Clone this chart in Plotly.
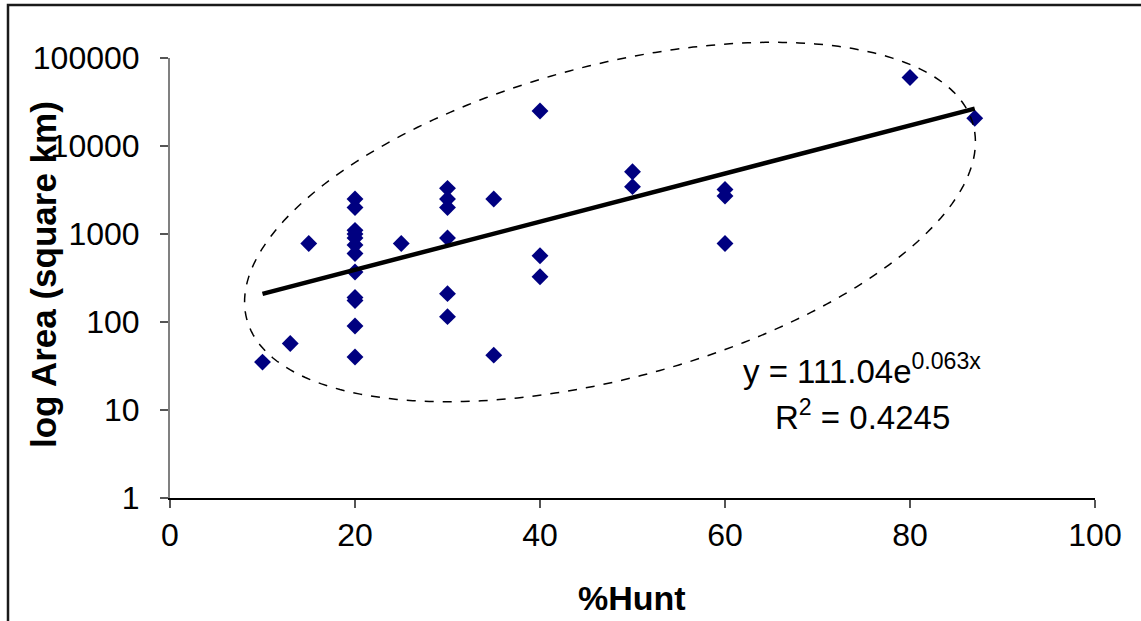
import math
import plotly.graph_objects as go

# ---- data ----
hunt_pct = [10, 13, 15,
            20, 20, 20, 20, 20, 20, 20, 20, 20, 20, 20, 20,
            25,
            30, 30, 30, 30, 30, 30,
            35, 35,
            40, 40, 40,
            50, 50,
            60, 60, 60,
            80, 87]
area_km2 = [35, 57, 780,
            2500, 2000, 1100, 1000, 900, 750, 600, 370, 190, 175, 90, 40,
            780,
            3300, 2500, 2000, 900, 210, 115,
            2500, 42,
            25000, 565, 327,
            5100, 3450,
            3200, 2700, 780,
            60000, 20700]

# exponential trendline (straight on log axis): endpoints
trend_x = [10, 87]
trend_y = [209, 26600]

x_ticks = [0, 20, 40, 60, 80, 100]
y_ticks = [1, 10, 100, 1000, 10000, 100000]

equation_text = "y = 111.04e<sup>0.063x</sup>"
r2_text = "R<sup>2</sup> = 0.4245"

# ---- layout geometry (pixels) ----
W, H = 1141, 621
L, R, T, B = 170, 46, 58, 123
PW, PH = W - L - R, H - T - B

def px2paper(px, py):
    return (px - L) / PW, (H - B - py) / PH

FONT = "Liberation Sans, Arial, sans-serif"

fig = go.Figure()

fig.add_trace(go.Scatter(
    x=hunt_pct, y=area_km2, mode="markers",
    marker=dict(symbol="diamond", size=13, color="#000080",
                line=dict(width=0)),
    showlegend=False))

fig.add_trace(go.Scatter(
    x=trend_x, y=trend_y, mode="lines",
    line=dict(color="black", width=4.5),
    showlegend=False))

# dashed ellipse (annotation shape), built in pixel space
cx, cy, a, b, th = 610, 222, 376, 156.4, math.radians(15.0)
pts = []
for i in range(241):
    t = 2 * math.pi * i / 240
    px = cx + a * math.cos(th) * math.cos(t) - b * math.sin(th) * math.sin(t)
    py = cy - (a * math.sin(th) * math.cos(t) + b * math.cos(th) * math.sin(t))
    pts.append(px2paper(px, py))
path = "M " + " L ".join(f"{x:.5f},{y:.5f}" for x, y in pts) + " Z"
fig.add_shape(type="path", path=path, xref="paper", yref="paper",
              line=dict(color="black", width=1.5, dash="dash"), layer="above")

# outer chart border
bx0, by0 = px2paper(8, 5)
bx1, by1 = px2paper(1160, 640)
fig.add_shape(type="rect", xref="paper", yref="paper",
              x0=bx0, y0=by1, x1=bx1, y1=by0,
              line=dict(color="#1a1a1a", width=2.5))

# titles
tx, ty = px2paper(43, 275)
fig.add_annotation(text="<b>log Area (square km)</b>", xref="paper", yref="paper",
                   x=tx, y=ty, textangle=-90, showarrow=False,
                   xanchor="center", yanchor="middle",
                   font=dict(family=FONT, size=35, color="black"))
hx, hy = px2paper(632, 598)
fig.add_annotation(text="<b>%Hunt</b>", xref="paper", yref="paper",
                   x=hx, y=hy, showarrow=False,
                   xanchor="center", yanchor="middle",
                   font=dict(family=FONT, size=34, color="black"))

# equation
ex, ey = px2paper(862, 369)
fig.add_annotation(text=equation_text, xref="paper", yref="paper",
                   x=ex, y=ey, showarrow=False, xanchor="center", yanchor="middle",
                   font=dict(family=FONT, size=33, color="black"))
rx, ry = px2paper(862, 415)
fig.add_annotation(text=r2_text, xref="paper", yref="paper",
                   x=rx, y=ry, showarrow=False, xanchor="center", yanchor="middle",
                   font=dict(family=FONT, size=33, color="black"))

fig.update_xaxes(range=[0, 100], tickvals=x_ticks, ticktext=[str(v) for v in x_ticks],
                 showgrid=False, zeroline=False,
                 showline=True, linecolor="black", linewidth=1.5,
                 ticks="outside", ticklen=8, tickcolor="#555", tickwidth=1.5,
                 tickfont=dict(family=FONT, size=32, color="black"))
fig.update_yaxes(type="log", range=[0, 5], tickvals=y_ticks,
                 ticktext=[str(v) for v in y_ticks],
                 showgrid=False, zeroline=False,
                 showline=True, linecolor="#808080", linewidth=2,
                 ticks="outside", ticklen=8, tickcolor="#555", tickwidth=1.5,
                 ticklabelstandoff=14,
                 tickfont=dict(family=FONT, size=32, color="black"))

fig.update_layout(width=W, height=H, autosize=False,
                  margin=dict(l=L, r=R, t=T, b=B),
                  paper_bgcolor="white", plot_bgcolor="white",
                  showlegend=False)

fig.write_html("out.html",
               config={"displayModeBar": False},
               post_script="document.body.style.margin='0';document.body.style.overflow='hidden';")
